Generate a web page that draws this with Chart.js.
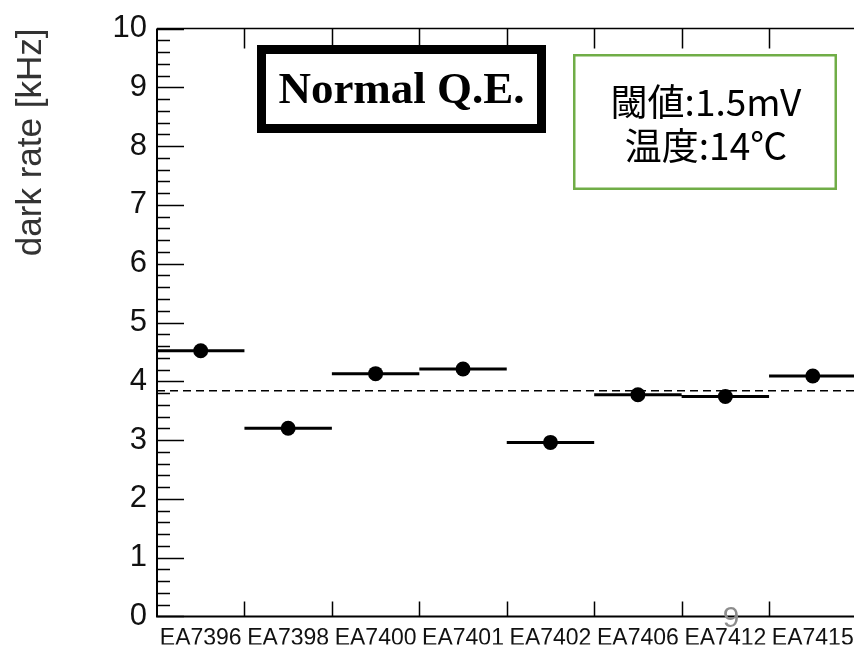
<!DOCTYPE html>
<html>
<head>
<meta charset="utf-8">
<script src="https://cdn.jsdelivr.net/npm/chart.js@4"></script>
<style>
  html, body { margin: 0; padding: 0; background: #fff; overflow: hidden; }
  canvas { display: block; }
</style>
</head>
<body>
<canvas id="chart1" width="864" height="645"></canvas>
<script>
// PMT names on the x axis
const detectors = ['EA7396', 'EA7398', 'EA7400', 'EA7401', 'EA7402', 'EA7406', 'EA7412', 'EA7415'];
// dark rate per PMT [kHz]
const darkRate = [4.52, 3.20, 4.13, 4.21, 2.96, 3.77, 3.74, 4.09];
// dashed average line [kHz]
const meanRate = 3.84;
const yMin = 0;
const yMax = 10;

// horizontal bar across each bin, gaps between bins
const binSegments = darkRate.flatMap((v, i) => [
    {x: i, y: v},
    {x: i + 1, y: v},
    {x: i + 1, y: null}
]);
const points = darkRate.map((v, i) => ({x: i + 0.5, y: v}));

// frame, inward ticks, text boxes
const framePlugin = {
    id: 'frame',
    afterDraw(chart) {
        const c = chart.ctx;
        const a = chart.chartArea;
        const xs = chart.scales.x;
        const ys = chart.scales.y;
        c.save();
        c.strokeStyle = '#000';

        // axes box
        c.lineWidth = 2;
        c.beginPath();
        c.moveTo(a.left, a.top); c.lineTo(a.left, a.bottom); c.lineTo(a.right, a.bottom);
        c.stroke();
        c.lineWidth = 1.5;
        c.beginPath();
        c.moveTo(a.left, a.top); c.lineTo(a.right, a.top); c.lineTo(a.right, a.bottom);
        c.stroke();

        // y ticks, major every 1, minor every 0.2
        c.lineWidth = 1.5;
        for (let k = 0; k <= (yMax - yMin) * 5; k++) {
            const v = yMin + k * 0.2;
            const py = Math.round(ys.getPixelForValue(v)) + 0.5;
            const len = k % 5 === 0 ? 27 : 13;
            c.beginPath();
            c.moveTo(a.left, py); c.lineTo(a.left + len, py);
            c.stroke();
        }

        // x ticks at bin edges
        for (let i = 1; i < detectors.length; i++) {
            const px = Math.round(xs.getPixelForValue(i)) + 0.5;
            c.beginPath();
            c.moveTo(px, a.bottom); c.lineTo(px, a.bottom - 15);
            c.moveTo(px, a.top); c.lineTo(px, a.top + 20);
            c.stroke();
        }

        // "Normal Q.E." box
        c.lineWidth = 9;
        c.strokeStyle = '#000';
        c.fillStyle = '#fff';
        c.fillRect(261.5, 49.5, 280, 79);
        c.strokeRect(261.5, 49.5, 280, 79);
        c.fillStyle = '#000';
        c.font = 'bold 45px "Liberation Serif", "Times New Roman", serif';
        c.textAlign = 'center';
        c.textBaseline = 'alphabetic';
        c.fillText('Normal Q.E.', 401.5, 103);

        // condition box
        c.lineWidth = 2.5;
        c.strokeStyle = '#70ad47';
        c.fillStyle = '#fff';
        c.fillRect(574.25, 55.25, 261.5, 133.5);
        c.strokeRect(574.25, 55.25, 261.5, 133.5);
        c.fillStyle = '#000';
        c.font = '37px "Noto Sans CJK JP", sans-serif';
        c.fillText('閾値:1.5mV', 706, 116);
        c.fillText('温度:14℃', 706, 160);

        // slide page number
        c.fillStyle = '#8c8c8c';
        c.font = '30px "Liberation Sans", Arial, sans-serif';
        c.fillText('9', 731, 627);
        c.restore();
    }
};

const chart1Config = {
    type: 'scatter',
    data: {
        datasets: [
            {
                type: 'line',
                data: [{x: 0, y: meanRate}, {x: detectors.length, y: meanRate}],
                borderColor: '#000',
                borderWidth: 1.5,
                borderDash: [8, 5],
                pointRadius: 0
            },
            {
                type: 'line',
                data: binSegments,
                borderColor: '#000',
                borderWidth: 3,
                pointRadius: 0,
                spanGaps: false
            },
            {
                data: points,
                backgroundColor: '#000',
                borderWidth: 0,
                pointRadius: 7.5
            }
        ]
    },
    options: {
        responsive: false,
        animation: false,
        layout: { padding: { top: 23, right: 3, left: 0, bottom: 0 } },
        plugins: {
            legend: { display: false },
            tooltip: { enabled: false }
        },
        scales: {
            x: {
                type: 'linear',
                min: 0,
                max: detectors.length,
                afterBuildTicks: (s) => { s.ticks = detectors.map((d, i) => ({value: i + 0.5})); },
                afterFit: (s) => { s.height = 28; },
                grid: { display: false, drawTicks: false },
                border: { display: false },
                ticks: {
                    autoSkip: false,
                    maxRotation: 0,
                    padding: 8,
                    color: '#111',
                    font: { family: '"Liberation Sans", Arial, sans-serif', size: 23 },
                    callback: (v) => detectors[Math.floor(v)]
                }
            },
            y: {
                min: yMin,
                max: yMax,
                afterFit: (s) => { s.width = 157; },
                grid: { display: false, drawTicks: false },
                border: { display: false },
                ticks: {
                    stepSize: 1,
                    padding: 10,
                    color: '#111',
                    font: { family: '"Liberation Sans", Arial, sans-serif', size: 31 }
                },
                title: {
                    display: true,
                    text: 'dark rate [kHz]',
                    align: 'end',
                    color: '#333',
                    padding: { top: 10, bottom: 0 },
                    font: { family: '"Liberation Sans", Arial, sans-serif', size: 35 }
                }
            }
        }
    },
    plugins: [framePlugin]
};

var chart1Chart = new Chart(document.getElementById('chart1'), chart1Config);
</script>
</body>
</html>
